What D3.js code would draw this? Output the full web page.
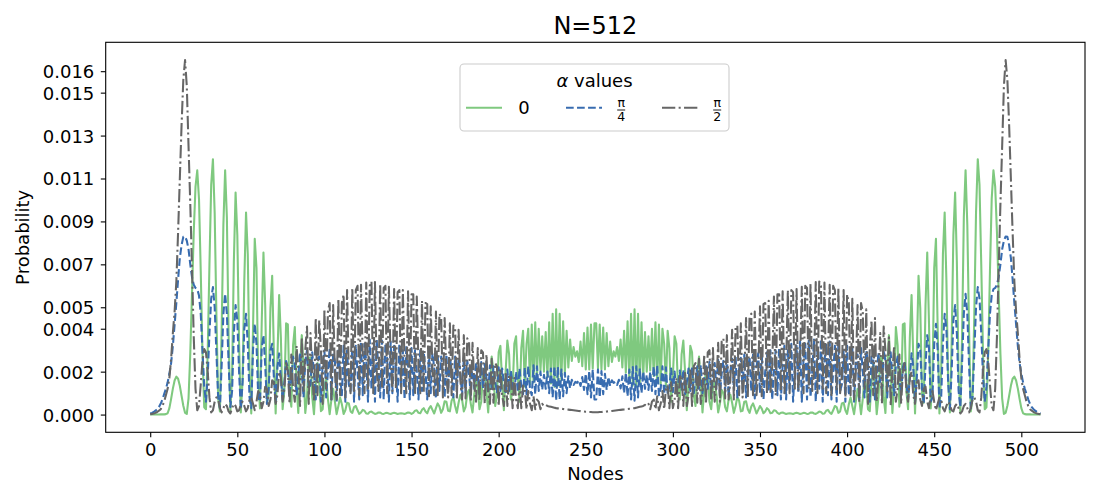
<!DOCTYPE html>
<html><head><meta charset="utf-8">
<script src="https://cdn.jsdelivr.net/npm/d3@7"></script>
<style>
body{margin:0;background:#fff}
text{font-family:"DejaVu Sans",sans-serif;fill:#000}
</style>
</head><body>
<svg id="chart" width="1100" height="500"></svg>
<script>
// Probabilities, in units of 1e-5, one value per node 0..511
const UNIT = 1e-5;
const greenValues = [
0,0,0,0,0,0,1,1,1,2,6,30,73,121,159,177,
167,134,87,41,8,3,76,285,569,853,1062,1138,1005,668,285,34,
25,290,700,1070,1190,940,460,76,15,394,884,1138,920,370,12,183,
711,1035,836,337,10,157,623,941,747,206,5,397,819,683,166,29,
428,755,508,55,96,495,647,282,5,258,557,358,25,111,425,420,
91,37,322,408,136,8,211,370,211,7,81,266,266,81,2,137,
240,151,16,25,128,170,73,2,70,120,60,2,40,80,48,3,
20,55,52,15,8,35,40,20,3,10,22,18,5,4,12,14,
8,3,5,10,9,4,3,7,8,5,3,6,8,6,3,5,
6,5,3,6,10,8,3,8,18,20,8,6,22,30,14,6,
28,40,22,5,30,52,38,8,25,62,60,18,15,65,82,40,
8,55,92,70,15,35,100,115,50,10,95,155,120,25,60,190,
215,110,10,150,270,200,40,90,290,320,150,20,200,345,280,70,
110,330,365,180,60,310,390,130,330,400,140,420,150,430,180,400,
205,365,200,385,175,430,145,470,130,490,135,470,160,435,195,390,
220,350,250,315,270,295,245,340,225,380,210,405,210,420,215,425,
425,215,420,210,405,210,380,225,340,245,295,270,315,250,350,220,
390,195,435,160,470,135,490,130,470,145,430,175,385,200,365,205,
400,180,430,150,420,140,400,330,130,390,310,60,180,365,330,110,
70,280,345,200,20,150,320,290,90,40,200,270,150,10,110,215,
190,60,25,120,155,95,10,50,115,100,35,15,70,92,55,8,
40,82,65,15,18,60,62,25,8,38,52,30,5,22,40,28,
6,14,30,22,6,8,20,18,8,3,8,10,6,3,5,6,
5,3,6,8,6,3,5,8,7,3,4,9,10,5,3,8,
14,12,4,5,18,22,10,3,20,40,35,8,15,52,55,20,
3,48,80,40,2,60,120,70,2,73,170,128,25,16,151,240,
137,2,81,266,266,81,7,211,370,211,8,136,408,322,37,91,
420,425,111,25,358,557,258,5,282,647,495,96,55,508,755,428,
29,166,683,819,397,5,206,747,941,623,157,10,337,836,1035,711,
183,12,370,920,1138,884,394,15,76,460,940,1190,1070,700,290,25,
34,285,668,1005,1138,1062,853,569,285,76,3,8,41,87,134,167,
177,159,121,73,30,6,2,1,1,1,0,0,0,0,0,0
];
const blueValues = [
5,8,12,18,25,35,50,70,95,120,150,190,240,320,420,520,
630,730,790,828,830,810,770,700,640,605,590,585,555,470,300,130,
60,180,380,540,594,500,290,80,30,230,470,563,470,240,35,110,
380,510,440,200,25,150,400,470,330,80,30,300,423,330,80,60,
310,370,230,50,120,300,330,170,55,220,285,170,70,150,250,220,
100,160,270,230,90,180,290,200,80,250,300,120,140,290,190,70,
260,270,60,240,300,80,200,310,70,280,250,60,310,180,90,320,
60,300,140,110,330,60,320,200,70,340,90,330,250,60,350,120,
310,60,350,200,80,345,70,330,260,60,340,100,320,220,60,330,
120,300,70,320,230,70,310,90,300,200,70,300,110,290,200,70,
290,100,285,220,75,280,110,270,190,80,280,120,265,210,80,270,
120,260,200,85,265,110,250,190,90,255,120,240,180,95,245,120,
235,170,100,230,120,225,160,100,220,110,215,150,95,210,110,205,
140,100,200,105,215,130,95,220,95,225,120,90,230,95,225,110,
200,115,185,120,200,100,215,80,225,65,222,70,210,85,195,100,
178,122,162,138,152,148,160,133,175,115,190,95,203,80,210,70,
70,210,80,203,95,190,115,175,133,160,148,152,138,162,122,178,
100,195,85,210,70,222,65,225,80,215,100,200,120,185,115,200,
110,225,95,230,90,120,225,95,220,95,130,215,105,200,100,140,
205,110,210,95,150,215,110,220,100,160,225,120,230,100,170,235,
120,245,95,180,240,120,255,90,190,250,110,265,85,200,260,120,
270,80,210,265,120,280,80,190,270,110,280,75,220,285,100,290,
70,200,290,110,300,70,200,300,90,310,70,230,320,70,300,120,
330,60,220,320,100,340,60,260,330,70,345,80,200,350,60,310,
120,350,60,250,330,90,340,70,200,320,60,330,110,140,300,60,
320,90,180,310,60,250,280,70,310,200,80,300,240,60,270,260,
70,190,290,140,120,300,250,80,200,290,180,90,230,270,160,100,
220,250,150,70,170,285,220,55,170,330,300,120,50,230,370,310,
60,80,330,423,300,30,80,330,470,400,150,25,200,440,510,380,
110,35,240,470,563,470,230,30,80,290,500,594,540,380,180,60,
130,300,470,555,585,590,605,640,700,770,810,830,828,790,730,630,
520,420,320,240,190,150,120,95,70,50,35,25,18,12,8,5
];
const grayValues = [
2,3,5,8,12,18,25,40,60,90,120,170,260,380,480,620,
850,1100,1350,1560,1652,1530,1250,980,680,360,120,20,40,140,250,305,
290,200,80,10,20,60,80,70,30,10,30,50,40,15,5,30,
50,40,15,20,45,60,40,15,30,70,80,50,20,60,110,90,
30,60,130,120,40,70,160,150,50,90,200,170,60,120,240,200,
50,280,120,60,320,200,40,360,110,300,410,50,380,180,60,450,
90,440,300,50,490,120,480,520,60,510,200,70,540,90,520,560,
80,580,180,100,590,110,580,600,90,605,260,100,615,120,600,620,
100,618,200,110,610,120,590,600,100,595,250,110,585,120,570,580,
100,580,230,100,575,110,560,560,90,550,220,100,530,100,520,515,
85,505,200,90,480,90,470,455,80,450,180,80,425,90,415,405,
70,395,160,70,370,75,355,340,60,335,140,60,310,65,300,290,
50,280,110,50,260,55,240,225,40,215,90,40,200,40,185,175,
30,170,70,30,150,30,135,120,25,110,50,20,85,25,70,60,
25,50,40,45,40,38,36,34,32,30,29,28,27,26,25,24,
23,22,21,20,19,18,17,16,15,14,13,13,12,12,11,11,
11,11,12,12,13,13,14,15,16,17,18,19,20,21,22,23,
24,25,26,27,28,29,30,32,34,36,38,40,45,40,50,25,
60,70,25,85,20,50,110,25,120,135,30,150,30,70,170,30,
175,185,40,200,40,90,215,40,225,240,55,260,50,110,280,50,
290,300,65,310,60,140,335,60,340,355,75,370,70,160,395,70,
405,415,90,425,80,180,450,80,455,470,90,480,90,200,505,85,
515,520,100,530,100,220,550,90,560,560,110,575,100,230,580,100,
580,570,120,585,110,250,595,100,600,590,120,610,110,200,618,100,
620,600,120,615,100,260,605,90,600,580,110,590,100,180,580,80,
560,520,90,540,70,200,510,60,520,480,120,490,50,300,440,90,
450,60,180,380,50,410,300,110,360,40,200,320,60,120,280,50,
200,240,120,60,170,200,90,50,150,160,70,40,120,130,60,30,
90,110,60,20,50,80,70,30,15,40,60,45,20,15,40,50,
30,5,15,40,50,30,10,30,70,80,60,20,10,80,200,290,
305,250,140,40,20,120,360,680,980,1250,1530,1652,1560,1350,1100,850,
620,480,380,260,170,120,90,60,40,25,18,12,8,5,3,2
];
const nodes = d3.range(greenValues.length);
const alphaLabels = [["0"], ["π","4"], ["π","2"]];
const xTicks = [0, 50, 100, 150, 200, 250, 300, 350, 400, 450, 500];
const yTicks = [0.000, 0.002, 0.004, 0.005, 0.007, 0.009, 0.011, 0.013, 0.015, 0.016];
const yTickLabels = ["0.000","0.002","0.004","0.005","0.007","0.009","0.011","0.013","0.015","0.016"];
const titleText = "N=512";

const series = [
  {vals: greenValues, color: "#7fc97f", dash: null},
  {vals: blueValues,  color: "#386cb0", dash: "7.7,3.33"},
  {vals: grayValues,  color: "#666666", dash: "13.3,3.33,2.08,3.33"}
];

const svg = d3.select("#chart");
const L = 105.7, R = 1085, T = 42.3, B = 432.3;
const allMax = d3.max(series, s => d3.max(s.vals)) * UNIT;
const nMax = nodes.length - 1;
const x = d3.scaleLinear().domain([-0.05 * nMax, nMax * 1.05]).range([L, R]);
const y = d3.scaleLinear().domain([-0.05 * allMax, 1.05 * allMax]).range([B, T]);

svg.append("defs").append("clipPath").attr("id", "clip")
  .append("rect").attr("x", L).attr("y", T).attr("width", R - L).attr("height", B - T);

const line = d3.line().x((d, i) => x(nodes[i])).y(d => y(d * UNIT));
const g = svg.append("g").attr("clip-path", "url(#clip)");
series.forEach(s => {
  g.append("path").datum(s.vals).attr("d", line)
    .attr("fill", "none").attr("stroke", s.color).attr("stroke-width", 2.08)
    .attr("stroke-linejoin", "round")
    .attr("stroke-dasharray", s.dash);
});

// frame
svg.append("rect").attr("x", L).attr("y", T).attr("width", R - L).attr("height", B - T)
  .attr("fill", "none").attr("stroke", "#000").attr("stroke-width", 1.1);

const xAxis = svg.append("g").attr("transform", `translate(0,${B})`)
  .call(d3.axisBottom(x).tickValues(xTicks).tickSize(4.9).tickPadding(6).tickFormat(d3.format("d")));
const yAxis = svg.append("g").attr("transform", `translate(${L},0)`)
  .call(d3.axisLeft(y).tickValues(yTicks).tickSize(4.9).tickPadding(6.5).tickFormat((d, i) => yTickLabels[i]));
[xAxis, yAxis].forEach(a => {
  a.select(".domain").remove();
  a.selectAll(".tick line").attr("stroke", "#000").attr("stroke-width", 1.1);
  a.selectAll(".tick text").attr("font-size", 18).attr("font-family", "DejaVu Sans").attr("fill", "#000");
});
yAxis.selectAll(".tick text").attr("dy", "0.36em");

svg.append("text").attr("x", (L + R) / 2).attr("y", 34).attr("text-anchor", "middle")
  .attr("font-size", 24).text(titleText);
svg.append("text").attr("x", (L + R) / 2).attr("y", 480).attr("text-anchor", "middle")
  .attr("font-size", 18).text("Nodes");
svg.append("text").attr("transform", `translate(29,${(T + B) / 2}) rotate(-90)`)
  .attr("text-anchor", "middle").attr("font-size", 18).text("Probability");

// legend
const lg = svg.append("g");
lg.append("rect").attr("x", 460).attr("y", 64).attr("width", 269).attr("height", 67).attr("rx", 4)
  .attr("fill", "#fff").attr("fill-opacity", 0.8).attr("stroke", "#cccccc").attr("stroke-width", 1.1);
const lt = lg.append("text").attr("x", 594.5).attr("y", 86.5).attr("text-anchor", "middle").attr("font-size", 18);
lt.append("tspan").attr("font-style", "italic").text("α");
lt.append("tspan").text(" values");
const entryX = [466, 566, 662];
series.forEach((s, i) => {
  const x0 = entryX[i];
  lg.append("line").attr("x1", x0).attr("x2", x0 + 36).attr("y1", 107.7).attr("y2", 107.7)
    .attr("stroke", s.color).attr("stroke-width", 2.08).attr("stroke-dasharray", s.dash);
  const lab = alphaLabels[i];
  if (lab.length === 1) {
    lg.append("text").attr("x", x0 + 58).attr("y", 114).attr("text-anchor", "middle")
      .attr("font-size", 18).text(lab[0]);
  } else {
    const cx = x0 + 55.2;
    lg.append("text").attr("x", cx).attr("y", 106.6).attr("text-anchor", "middle")
      .attr("font-size", 12.5).text(lab[0]);
    lg.append("line").attr("x1", cx - 4).attr("x2", cx + 4).attr("y1", 110).attr("y2", 110)
      .attr("stroke", "#000").attr("stroke-width", 0.9);
    lg.append("text").attr("x", cx).attr("y", 120.6).attr("text-anchor", "middle")
      .attr("font-size", 12.5).text(lab[1]);
  }
});
</script>
</body></html>
